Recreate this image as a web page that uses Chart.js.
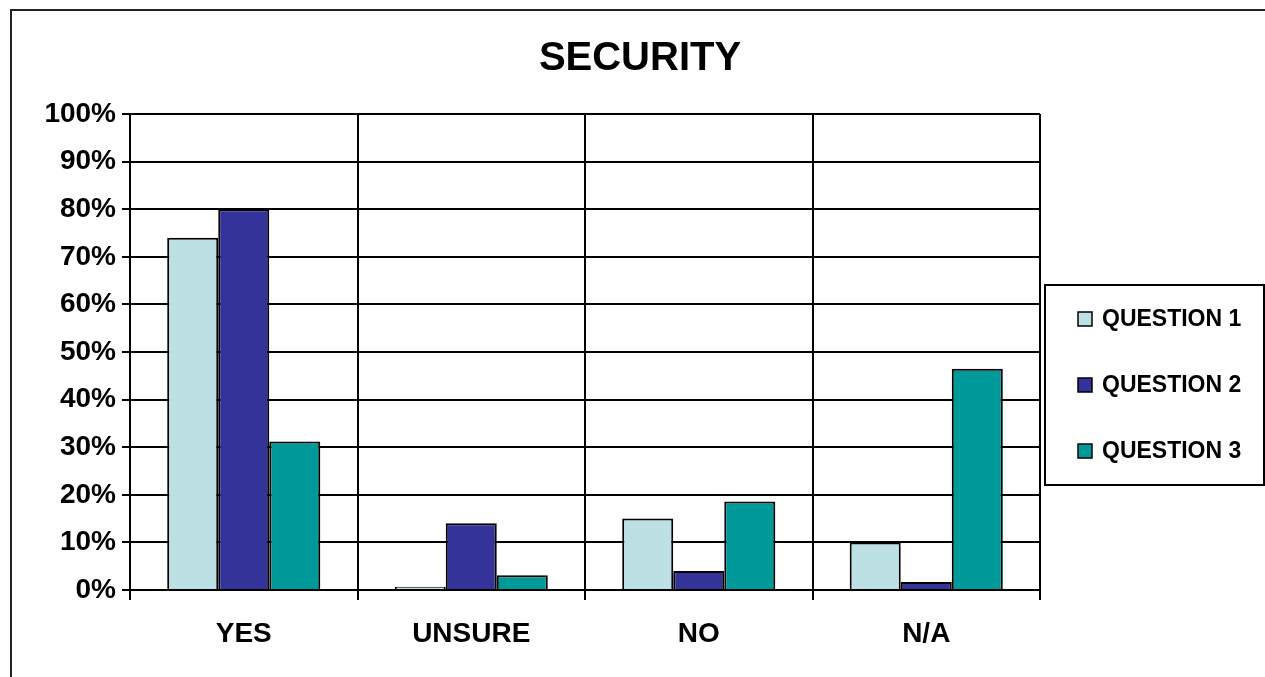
<!DOCTYPE html>
<html>
<head>
<meta charset="utf-8">
<title>Security</title>
<script src="https://cdn.jsdelivr.net/npm/chart.js@4.4.1/dist/chart.umd.min.js"></script>
<style>
  html, body { margin: 0; padding: 0; background: #fff; }
  #wrap { width: 1265px; height: 677px; }
</style>
</head>
<body>
<div id="wrap"><canvas id="securityChart" width="1265" height="677"></canvas></div>
<script>
const answers = ['YES', 'UNSURE', 'NO', 'N/A'];
const seriesNames = ['QUESTION 1', 'QUESTION 2', 'QUESTION 3'];
const question1 = [74, 0.7, 15, 10];
const question2 = [80, 14, 4, 1.7];
const question3 = [31.2, 3.1, 18.6, 46.5];
const barColors = ['#BCE0E3', '#333399', '#009999'];

Chart.defaults.font.family = '"Liberation Sans", Arial, sans-serif';
Chart.defaults.color = '#000';

// white page with the outer frame line on the left/top
const framePlugin = {
    id: 'frame',
    beforeDraw(chart) {
        const ctx = chart.ctx;
        ctx.save();
        ctx.fillStyle = '#fff';
        ctx.fillRect(0, 0, chart.width, chart.height);
        ctx.strokeStyle = '#222';
        ctx.lineWidth = 2;
        ctx.strokeRect(11, 10, chart.width + 20, chart.height + 20);
        ctx.restore();
    }
};

// centre the title over the whole page instead of the plot
const titlePlugin = {
    id: 'titleCentre',
    afterLayout(chart) {
        chart.titleBlock.left = 15;
        chart.titleBlock.right = chart.width;
    }
};

// boxed legend on the right side
const boxLegend = {
    id: 'boxLegend',
    afterDraw(chart) {
        const ctx = chart.ctx;
        ctx.save();
        ctx.strokeStyle = '#000';
        ctx.lineWidth = 2;
        ctx.strokeRect(1045, 285, 219, 200);
        ctx.font = 'bold 23px "Liberation Sans", Arial, sans-serif';
        ctx.textBaseline = 'middle';
        ctx.textAlign = 'left';
        chart.data.datasets.forEach((ds, i) => {
            const y = 319 + i * 66;
            ctx.fillStyle = ds.backgroundColor;
            ctx.fillRect(1078, y - 7, 14, 14);
            ctx.lineWidth = 1.5;
            ctx.strokeRect(1078, y - 7, 14, 14);
            ctx.fillStyle = '#000';
            ctx.fillText(ds.label, 1102, y + 1);
        });
        ctx.restore();
    }
};

const allSeries = [question1, question2, question3];

new Chart(document.getElementById('securityChart'), {
    type: 'bar',
    data: {
        labels: answers,
        datasets: allSeries.map((vals, i) => ({
            label: seriesNames[i],
            data: vals,
            backgroundColor: barColors[i],
            borderColor: '#000',
            borderWidth: 2,
            barPercentage: 1,
            categoryPercentage: 0.673
        }))
    },
    options: {
        responsive: false,
        animation: false,
        layout: { padding: { top: 0, left: 22, right: 225, bottom: 27 } },
        scales: {
            x: {
                grid: { color: '#000', lineWidth: 2, tickLength: 10, offset: true },
                border: { color: '#000', width: 2 },
                ticks: { font: { size: 28, weight: 'bold' }, padding: 17 },
                afterFit: s => { s.height = 60; }
            },
            y: {
                min: 0,
                max: 100,
                grid: { color: '#000', lineWidth: 2, tickLength: 8 },
                border: { color: '#000', width: 2 },
                ticks: {
                    stepSize: 10,
                    padding: 6,
                    font: { size: 28, weight: 'bold' },
                    callback: v => v + '%'
                },
                afterFit: s => { s.width = 108; }
            }
        },
        plugins: {
            legend: { display: false },
            tooltip: { enabled: false },
            title: {
                display: true,
                text: 'SECURITY',
                font: { size: 40, weight: 'bold' },
                padding: { top: 35, bottom: 31 }
            }
        }
    },
    plugins: [framePlugin, titlePlugin, boxLegend]
});
</script>
</body>
</html>
